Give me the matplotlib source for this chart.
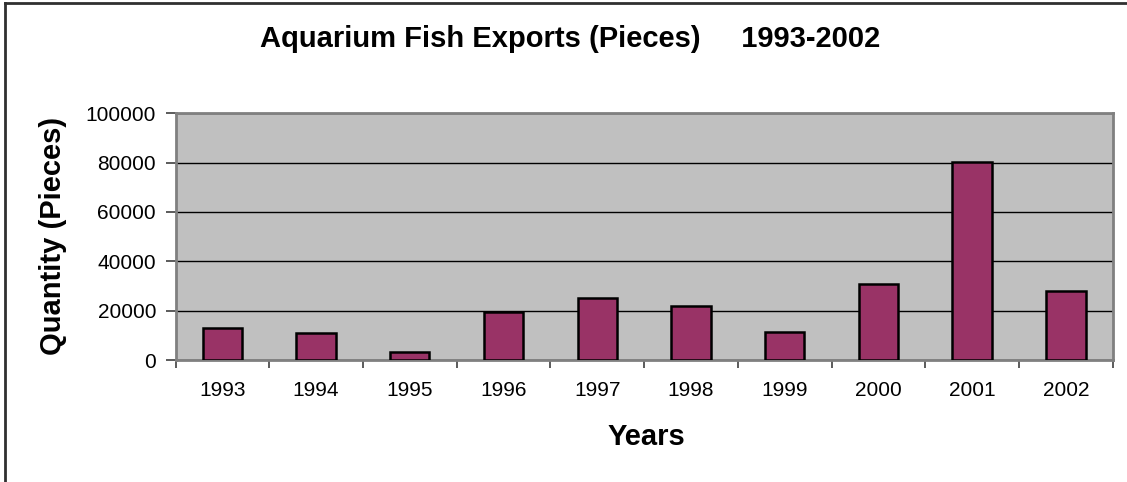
import numpy as np
import matplotlib
matplotlib.use("Agg")
import matplotlib.pyplot as plt
from matplotlib.lines import Line2D

plt.rcParams["font.family"] = ["Liberation Sans", "DejaVu Sans"]

# data
years = ["1993", "1994", "1995", "1996", "1997", "1998", "1999", "2000", "2001", "2002"]
pieces = [12800, 10900, 3400, 19600, 25000, 22000, 11500, 30700, 80400, 28000]
y_ticks = [0, 20000, 40000, 60000, 80000, 100000]

fig = plt.figure(figsize=(11.27, 4.82), dpi=100)
W, H = 1127, 482

# plot area in pixels: left 175.5, right 1112.7, top 113.3, bottom 360
ax = fig.add_axes([175.5 / W, (H - 360) / H, (1112.7 - 175.5) / W, (360 - 113.3) / H])
ax.set_facecolor("#c0c0c0")

x = np.arange(len(years))
ax.bar(x, pieces, width=0.42, color="#993366", edgecolor="black", linewidth=1.8, zorder=3)

ax.set_xlim(-0.5, len(years) - 0.5)
ax.set_ylim(0, 100000)

# gridlines
ax.set_yticks(y_ticks)
ax.set_yticklabels([str(v) for v in y_ticks], fontsize=15)
ax.yaxis.grid(True, color="black", linewidth=1.0, zorder=1)
ax.set_axisbelow(True)

# x ticks: marks at the boundaries, labels at the centres
ax.set_xticks(np.arange(-0.5, len(years), 1.0))
ax.set_xticklabels([])
ax.set_xticks(x, minor=True)
ax.set_xticklabels(years, minor=True, fontsize=15)
ax.tick_params(axis="x", which="minor", length=0, pad=15)
ax.tick_params(axis="x", which="major", length=6, width=1.2, color="#404040", direction="out")
ax.tick_params(axis="y", length=7, width=1.2, color="#404040", pad=7)

for s in ax.spines.values():
    s.set_color("#808080")
    s.set_linewidth(2)

fig.text(570 / W, 1 - 47 / H, "Aquarium Fish Exports (Pieces)     1993-2002",
         ha="center", va="baseline", fontsize=21, fontweight="bold")
fig.text(646 / W, 1 - 445 / H, "Years", ha="center", va="baseline",
         fontsize=21, fontweight="bold")
fig.text(53 / W, 1 - 236 / H, "Quantity (Pieces)", ha="center", va="center",
         rotation=90, fontsize=21, fontweight="bold")

# chart frame (left and top edges visible)
fig.add_artist(Line2D([4.5 / W, 4.5 / W], [0, 1 - 2.5 / H], color="#303030", linewidth=2,
                      transform=fig.transFigure))
fig.add_artist(Line2D([4.5 / W, 1], [1 - 2.5 / H, 1 - 2.5 / H], color="#303030", linewidth=2,
                      transform=fig.transFigure))

fig.savefig("out.png", dpi=100)
